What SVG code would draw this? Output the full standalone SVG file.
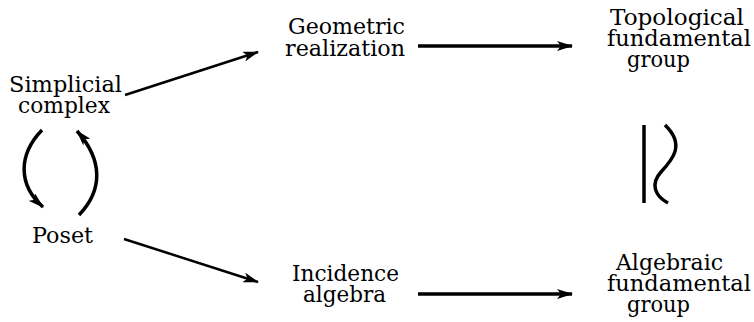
<svg xmlns="http://www.w3.org/2000/svg" width="754" height="322" viewBox="0 0 754 322">
<style>
.c{stroke:#000;fill:none;stroke-width:2.5}
.t{stroke-width:3.5}
.lbl{font-family:"DejaVu Serif","Liberation Serif",serif;font-size:23px;fill:#000}
</style>
<defs>
<marker id="ah" markerWidth="16" markerHeight="10" refX="15" refY="5" orient="auto" markerUnits="userSpaceOnUse">
<path d="M0,0 L16,5 L0,10 L4,5 Z" fill="#000"/>
</marker>
</defs>
<rect width="754" height="322" fill="#fff"/>
<g class="lbl">
<g id="simplicial"><text x="9" y="92" textLength="113" lengthAdjust="spacingAndGlyphs">Simplicial</text><text x="18" y="113" textLength="92" lengthAdjust="spacingAndGlyphs">complex</text></g>
<g id="poset"><text x="32" y="243" textLength="61" lengthAdjust="spacingAndGlyphs">Poset</text></g>
<g id="geometric"><text x="288" y="34" textLength="117" lengthAdjust="spacingAndGlyphs">Geometric</text><text x="285" y="56" textLength="120" lengthAdjust="spacingAndGlyphs">realization</text></g>
<g id="incidence"><text x="292" y="281" textLength="107" lengthAdjust="spacingAndGlyphs">Incidence</text><text x="303" y="302" textLength="83" lengthAdjust="spacingAndGlyphs">algebra</text></g>
<g id="topological"><text x="610" y="25" textLength="134" lengthAdjust="spacingAndGlyphs">Topological</text><text x="607" y="46" textLength="144" lengthAdjust="spacingAndGlyphs">fundamental</text><text x="627" y="67" textLength="63" lengthAdjust="spacingAndGlyphs">group</text></g>
<g id="algebraic"><text x="616" y="270" textLength="107" lengthAdjust="spacingAndGlyphs">Algebraic</text><text x="607" y="291" textLength="144" lengthAdjust="spacingAndGlyphs">fundamental</text><text x="627" y="312" textLength="63" lengthAdjust="spacingAndGlyphs">group</text></g>
</g>
<g id="equiv">
<path class="c t" d="M644,125 V203"/>
<path class="c t" d="M665,125 C686,145 672,160 661,172 C650,184 655,196 668,203"/>
</g>
<g id="connectors">
<path class="c" d="M125,95 L258,52" marker-end="url(#ah)"/>
<path class="c" d="M124,239 L258,282" marker-end="url(#ah)"/>
<path class="c t" d="M418,46 L572,46" marker-end="url(#ah)"/>
<path class="c t" d="M418,294 L572,294" marker-end="url(#ah)"/>
<path class="c t" d="M42,130 C18,155 18,185 43,207" marker-end="url(#ah)"/>
<path class="c t" d="M79,215 C103,190 103,160 77,131" marker-end="url(#ah)"/>
</g>
</svg>
